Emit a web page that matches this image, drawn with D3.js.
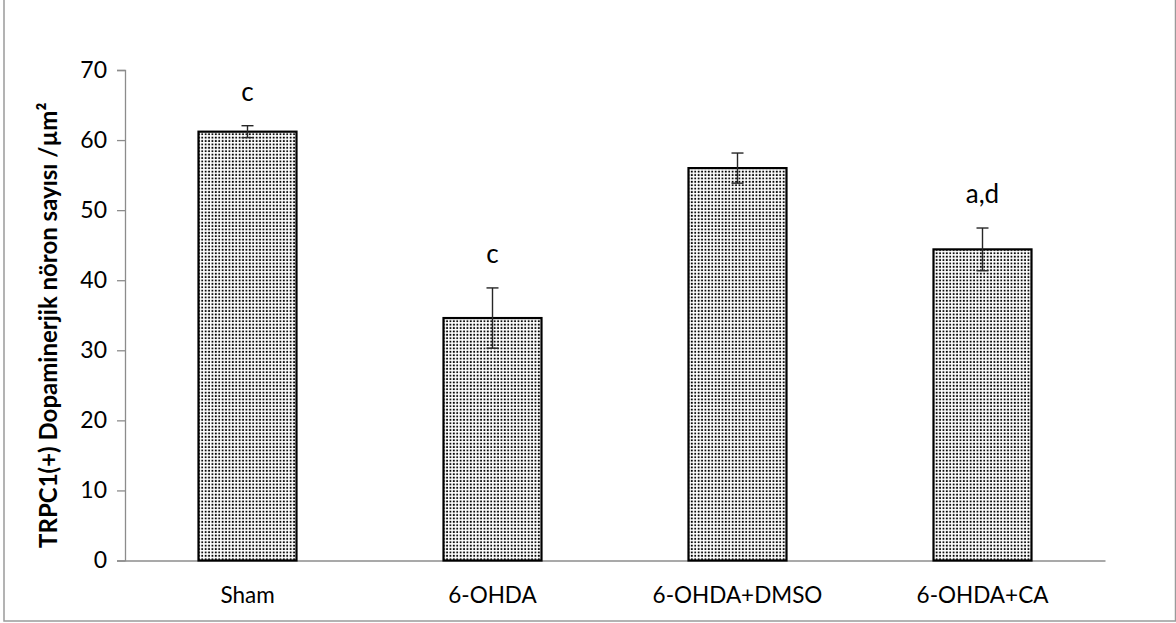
<!DOCTYPE html>
<html>
<head>
<meta charset="utf-8">
<script src="https://cdn.jsdelivr.net/npm/d3@7/dist/d3.min.js"></script>
<style>
  html, body { margin: 0; padding: 0; background: #fff; }
  svg { display: block; }
  text { font-family: Lato, "Open Sans", sans-serif; fill: #000; }
</style>
</head>
<body>
<svg id="chart" width="1176" height="623"></svg>
<script>
// Group names, mean counts, error (SEM) and significance letters
const groups = ["Sham", "6-OHDA", "6-OHDA+DMSO", "6-OHDA+CA"];
const means = [61.2, 34.6, 56.0, 44.4];
const errors = [0.85, 4.3, 2.15, 3.05];
const letters = ["c", "c", "", "a,d"];
const yTicks = [0, 10, 20, 30, 40, 50, 60, 70];
const yTitle = "TRPC1(+) Dopaminerjik nöron sayısı /µm²";

const svg = d3.select("#chart");
const W = 1176, H = 623;
const margin = { left: 125, right: 71, top: 70, bottom: 62.5 };

// outer frame
svg.append("rect")
  .attr("x", 4).attr("y", -1)
  .attr("width", W - 4 - 0.5).attr("height", 622)
  .attr("fill", "#fff").attr("stroke", "#9a9a9a").attr("stroke-width", 1.5);

// dotted fill pattern for bars
const defs = svg.append("defs");
const pat = defs.append("pattern")
  .attr("id", "dots").attr("patternUnits", "userSpaceOnUse")
  .attr("width", 3.4).attr("height", 3.4);
pat.append("rect").attr("width", 3.4).attr("height", 3.4).attr("fill", "#fff");
pat.append("rect").attr("x", 0.7).attr("y", 0.7).attr("width", 1.8).attr("height", 1.8).attr("fill", "#000");

const x = d3.scaleBand()
  .domain(groups)
  .range([margin.left, W - margin.right])
  .paddingInner(0.6).paddingOuter(0.3);

const y = d3.scaleLinear()
  .domain([0, 70])
  .range([H - margin.bottom, margin.top]);

// y axis
const yAxis = d3.axisLeft(y).tickValues(yTicks).tickSize(8).tickPadding(10).tickFormat(d3.format("d"));
const gy = svg.append("g").attr("transform", `translate(${margin.left},0)`).call(yAxis);
gy.select(".domain").attr("stroke", "#8c8c8c").attr("stroke-width", 1.3);
gy.selectAll(".tick line").attr("stroke", "#8c8c8c").attr("stroke-width", 1.3);
gy.selectAll(".tick text").attr("font-size", 23).attr("font-family", "Lato, sans-serif").attr("fill", "#000");

// x axis
const xAxis = d3.axisBottom(x).tickSize(0).tickPadding(27);
const gx = svg.append("g").attr("transform", `translate(0,${y(0)})`).call(xAxis);
gx.select(".domain").attr("stroke", "#8c8c8c").attr("stroke-width", 1.3);
gx.selectAll(".tick text").attr("font-size", 22.5).attr("font-family", "Lato, sans-serif").attr("fill", "#000");

// bars
svg.append("g").selectAll("rect")
  .data(groups)
  .join("rect")
  .attr("x", d => x(d))
  .attr("y", (d, i) => y(means[i]))
  .attr("width", x.bandwidth())
  .attr("height", (d, i) => y(0) - y(means[i]))
  .attr("fill", "url(#dots)")
  .attr("stroke", "#000").attr("stroke-width", 2.2);

// error bars
const eg = svg.append("g").attr("stroke", "#262626").attr("stroke-width", 1.4);
groups.forEach((g, i) => {
  const cx = x(g) + x.bandwidth() / 2;
  const top = y(means[i] + errors[i]);
  const bot = y(means[i] - errors[i]);
  eg.append("line").attr("x1", cx).attr("x2", cx).attr("y1", top).attr("y2", bot);
  eg.append("line").attr("x1", cx - 6).attr("x2", cx + 6).attr("y1", top).attr("y2", top);
  eg.append("line").attr("x1", cx - 6).attr("x2", cx + 6).attr("y1", bot).attr("y2", bot);
});

// significance letters
svg.append("g").selectAll("text")
  .data(groups)
  .join("text")
  .attr("x", d => x(d) + x.bandwidth() / 2)
  .attr("y", (d, i) => y(means[i] + errors[i]) - 25)
  .attr("text-anchor", "middle")
  .attr("font-size", 26)
  .text((d, i) => letters[i]);

// y axis title
svg.append("text")
  .attr("transform", `translate(57,${(y(0) + y(70)) / 2 + 10}) rotate(-90)`)
  .attr("text-anchor", "middle")
  .attr("font-size", 24)
  .attr("font-weight", "bold")
  .text(yTitle);
</script>
</body>
</html>
